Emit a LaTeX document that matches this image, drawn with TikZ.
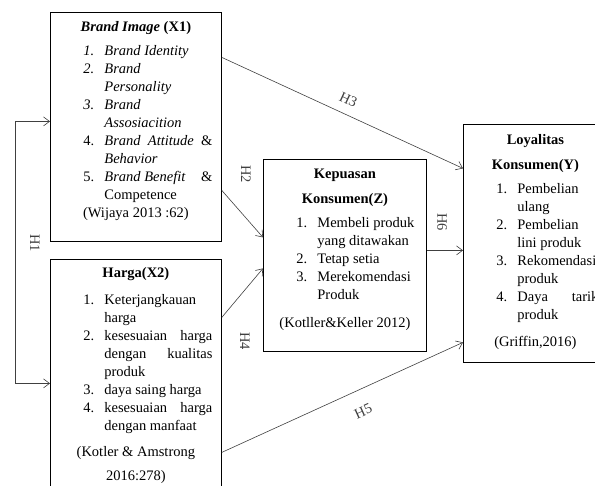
\documentclass[tikz,border=0pt]{standalone}
\usepackage{fontspec}
\setmainfont{Liberation Serif}
\usepackage{tikz}
\usetikzlibrary{arrows.meta}

\newlength{\numind}\setlength{\numind}{24pt}
\newlength{\numw}\setlength{\numw}{21pt}
% numbered line with hanging indent
\newcommand{\itm}[2]{\par\hangindent=\dimexpr\numind+\numw\relax\hangafter=1\noindent\hspace*{\numind}\makebox[\numw][l]{#1}#2\par}
\newcommand{\ttl}[1]{\par\centerline{#1}}
\newcommand{\src}[1]{\par\centerline{#1}}
% variable box: width, height, content
\newcommand{\varbox}[3]{\parbox[t][#2][t]{#1}{\fontsize{14.5}{18}\selectfont\leftskip=9pt\rightskip=9pt\relax #3}}

\begin{document}
\begin{tikzpicture}[
  x=1pt, y=-1pt,
  >={Straight Barb[length=6pt,width=9pt]},
  var/.style={draw, line width=0.8pt, inner sep=0pt, anchor=north west},
  link/.style={->, line width=0.6pt, black!75},
  hyp/.style={font=\fontsize{14.5}{18}\selectfont, inner sep=1pt}
]
\useasboundingbox (0,0) rectangle (595,486);

\node[var] (x1) at (50,12) {\varbox{171pt}{229pt}{%
  \vspace*{6.9pt}
  \ttl{\strut\textbf{\textit{Brand Image} (X1)}}
  \vspace{6pt}
  \itm{\textit{1.}}{\textit{Brand Identity}}
  \itm{\textit{2.}}{\textit{Brand}\\\textit{Personality}}
  \itm{\textit{3.}}{\textit{Brand}\\\textit{Assosiacition}}
  \itm{4.}{\textit{Brand Attitude} \&\linebreak\textit{Behavior}}
  \itm{5.}{\textit{Brand Benefit}\hfill\&\\Competence}
  \src{(Wijaya 2013 :62)}}};

\node[var] (x2) at (50,259) {\varbox{171pt}{235pt}{%
  \vspace*{5.9pt}
  \ttl{\strut\textbf{Harga(X2)}}
  \vspace{8.5pt}
  \itm{1.}{Keterjangkauan\\harga}
  \itm{2.}{kesesuaian harga\linebreak dengan kualitas\linebreak produk}
  \itm{3.}{daya saing harga}
  \itm{4.}{kesesuaian harga\linebreak dengan manfaat}
  \vspace{8pt}
  \src{(Kotler \& Amstrong}
  \vspace{6pt}
  \src{2016:278)}}};

\node[var] (z) at (263,159) {\varbox{163pt}{192pt}{%
  \vspace*{6.1pt}
  \ttl{\strut\textbf{Kepuasan}}
  \vspace{7.3pt}
  \ttl{\textbf{Konsumen(Z)}}
  \vspace{6pt}
  \itm{1.}{Membeli produk\\yang ditawakan}
  \itm{2.}{Tetap setia}
  \itm{3.}{Merekomendasi\\Produk}
  \vspace{10pt}
  \src{(Kotller\&Keller 2012)}}};

\node[var] (y) at (463,124) {\varbox{144pt}{238pt}{%
  \vspace*{7.4pt}
  \ttl{\strut\textbf{Loyalitas}}
  \vspace{7pt}
  \ttl{\textbf{Konsumen(Y)}}
  \vspace{6pt}
  \itm{1.}{Pembelian\\ulang}
  \itm{2.}{Pembelian\\lini produk}
  \itm{3.}{Rekomendasi\\produk}
  \itm{4.}{Daya tarik\linebreak produk}
  \vspace{9pt}
  \src{(Griffin,2016)}}};

% hypotheses
\draw[link, <->] ([yshift=5.5pt]x1.west) -- ++(-35,0) |- ([yshift=-6.5pt]x2.west)
  node[hyp, rotate=-90] at (35,243) {H1};
\draw[link] ([yshift=-63.5pt]x1.east) -- ([yshift=18pt]z.west)
  node[hyp, rotate=-90] at (246,174) {H2};
\draw[link] ([yshift=69.5pt]x1.east) -- node[hyp, sloped, above=8pt] {H3} ([yshift=75pt]y.west);
\draw[link] ([yshift=59.5pt]x2.east) -- ([yshift=-13pt]z.west)
  node[hyp, rotate=-90] at (245,341) {H4};
\draw[link] ([yshift=-75.5pt]x2.east) -- node[hyp, sloped, below=15pt, pos=0.55] {H5} ([yshift=-99pt]y.west);
\draw[link] ([yshift=5pt]z.east) -- ([yshift=5pt]z.east -| y.west)
  node[hyp, rotate=-90] at (442,222) {H6};
\end{tikzpicture}
\end{document}
